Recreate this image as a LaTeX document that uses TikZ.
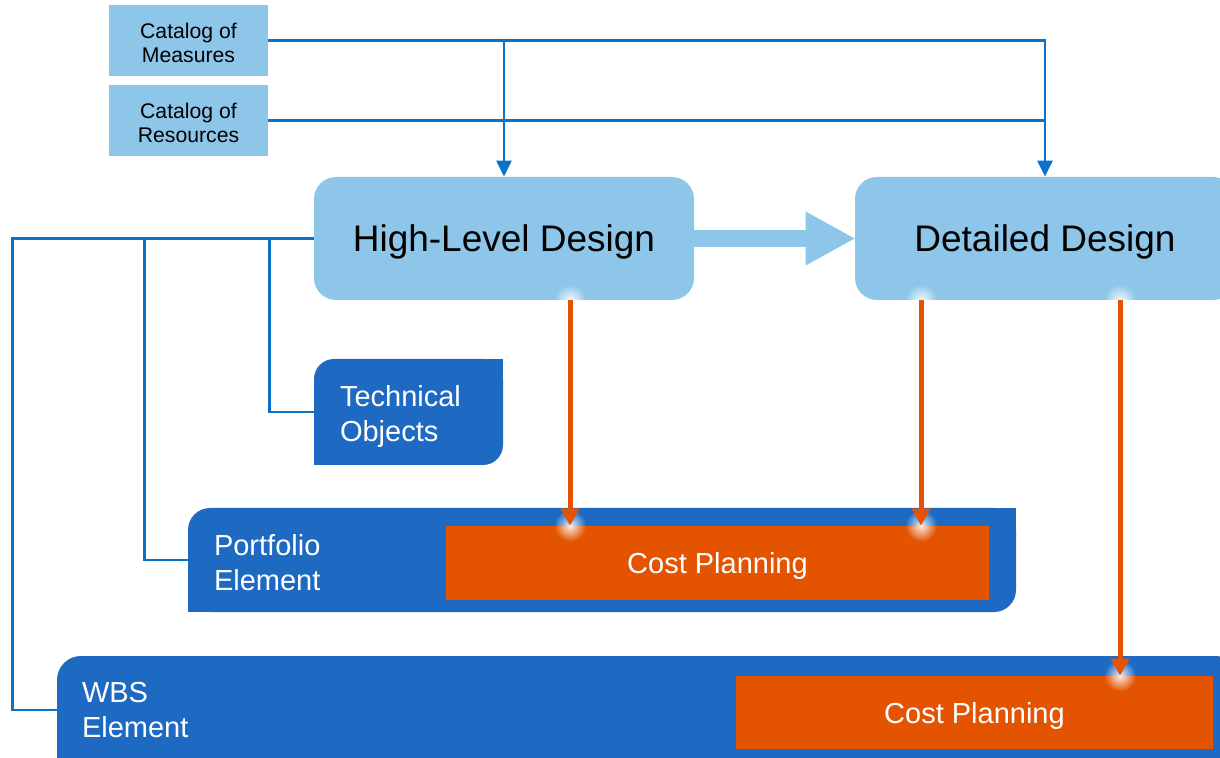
\documentclass[tikz,border=0pt]{standalone}
\usepackage{fontspec}
\setmainfont{Liberation Sans}
\usetikzlibrary{arrows.meta,fadings}
\definecolor{paleblue}{HTML}{8EC6E9}
\definecolor{deepblue}{HTML}{1E69C1}
\definecolor{linkblue}{HTML}{0B72C9}
\definecolor{costorange}{HTML}{E35300}
\tikzfading[name=glowfade, inner color=transparent!10, outer color=transparent!100]
\tikzset{
  catalog/.style={fill=paleblue, minimum width=79.5pt, minimum height=35.5pt, inner sep=0pt,
    text height=22pt, align=center, font=\fontsize{10.6}{12}\selectfont},
  design/.style={fill=paleblue, rounded corners=11pt, minimum width=190pt, minimum height=61.5pt,
    text depth=0pt, font=\fontsize{18.5}{22}\selectfont},
  object/.style={fill=deepblue, text=white, align=left, inner ysep=0pt,
    font=\fontsize{14.5}{17.5}\selectfont},
  cost/.style={fill=costorange, text=white, inner sep=0pt, text depth=0pt,
    font=\fontsize{14.5}{17.5}\selectfont},
  link/.style={draw=linkblue, line width=1.2pt},
  feed/.style={link, -{Triangle[length=8pt, width=7.5pt]}},
  flow/.style={draw=costorange, line width=2.5pt, -{Triangle[length=8.5pt, width=9pt]}},
  stage/.style={draw=paleblue, line width=8.5pt, -{Triangle[length=24.5pt, width=27pt, line width=0pt]}},
  glow/.style={fill=white, path fading=glowfade}
}
\begin{document}
\begin{tikzpicture}[x=0.5pt, y=-0.5pt]
  \useasboundingbox (0,0) rectangle (1220,758);
  \clip (0,0) rectangle (1220,758);
  % catalogs
  \node[catalog] (meas) at (188.5,40.5) {Catalog of\\Measures};
  \node[catalog] (res) at (188.5,120.5) {Catalog of\\Resources};
  % design stages
  \node[design] (hld) at (504,238.5) {High-Level Design};
  \node[design] (dd) at (1045,238.5) {Detailed Design};
  % objects
  \node[object, rounded corners=10pt, text width=68.5pt, inner xsep=13pt, minimum height=53pt,
    text height=15.5pt] (tech) at (408.5,412) {Technical\\Objects};
  \fill[deepblue] (tech.north east) rectangle ++(-12pt,-12pt);
  \fill[deepblue] (tech.south west) rectangle ++(12pt,12pt);
  \node[object, rounded corners=11pt, text width=388pt, inner xsep=13pt, minimum height=52pt,
    text height=13.6pt] (port) at (602,560) {Portfolio\\Element};
  \fill[deepblue] (port.north east) rectangle ++(-12pt,-12pt);
  \fill[deepblue] (port.south west) rectangle ++(12pt,12pt);
  \node[object, rounded corners=12pt, text width=566.5pt, inner xsep=12.5pt, minimum height=54pt]
    (wbs) at (648.5,710) {WBS\\Element};
  \fill[deepblue] (wbs.south west) rectangle ++(12pt,12pt);
  \node[cost, minimum width=271.5pt, minimum height=37pt] (cp1) at (717.5,563) {Cost Planning};
  \node[cost, minimum width=238.5pt, minimum height=36.5pt] (cp2) at (974.5,712.5) {Cost Planning};
  % catalog links
  \draw[feed] (meas.east) -| (hld.north);
  \draw[feed] (meas.east) -| (dd.north);
  \draw[link] (res.east) -- (res.east -| dd.north);
  % object links
  \draw[link] (hld.west) -- ++(-44,0) |- (tech.west);
  \draw[link] (hld.west) -- ++(-169,0) |- (port.west);
  \draw[link] (hld.west) -- ++(-301,0) |- (wbs.west);
  \draw[stage] (hld.east) -- (dd.west);
  % cost flows
  \coordinate (h1) at ([xshift=33pt]hld.south);
  \coordinate (d1) at ([xshift=-62pt]dd.south);
  \coordinate (d2) at ([xshift=37.5pt]dd.south);
  \foreach \s/\t in {h1/cp1, d1/cp1, d2/cp2} {
    \fill[glow] (\s) circle (8pt);
    \fill[glow] (\s |- \t.north) circle (8pt);
  }
  \foreach \s/\t in {h1/cp1, d1/cp1, d2/cp2}
    \draw[flow] (\s) -- (\s |- \t.north);
\end{tikzpicture}
\end{document}
